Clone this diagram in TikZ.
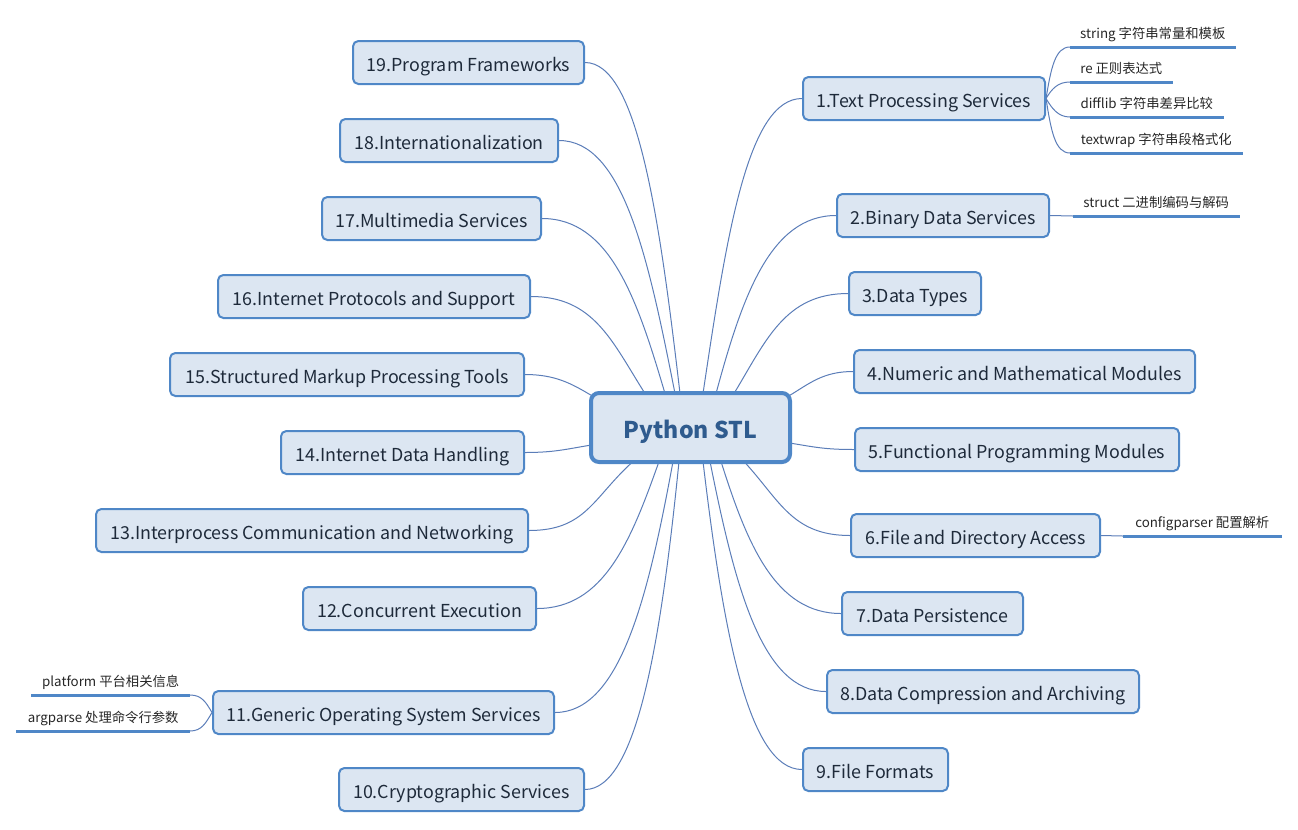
\documentclass[tikz,border=0pt]{standalone}
\usepackage{fontspec}
\setmainfont{Noto Sans CJK SC}
\usetikzlibrary{calc,backgrounds}
\definecolor{bord}{HTML}{4F87C7}
\definecolor{fillc}{HTML}{DCE6F2}
\definecolor{linec}{HTML}{5B7DB8}
\definecolor{txt}{HTML}{1E2A3A}
\definecolor{roottxt}{HTML}{2F5B8E}
\begin{document}
\begin{tikzpicture}[x=0.75pt,y=-0.75pt,
  topic/.style={draw=bord, line width=1.5pt, fill=fillc, rounded corners=4pt,
    minimum height=32.25pt, inner xsep=0pt, inner ysep=0pt, text=txt,
    text height=15.8pt, text depth=2pt,
    font=\fontsize{13.4}{16}\selectfont},
  wd/.style={minimum width=#1*0.75pt-1.5pt},
  rootn/.style={draw=bord, line width=3pt, fill=fillc, rounded corners=6pt,
    minimum width=149.25pt, minimum height=51.75pt, text=roottxt,
    inner sep=0pt, text height=18.8pt, text depth=3pt,
    font=\fontsize{17.3}{20}\selectfont\bfseries},
  conn/.style={draw=linec, line width=0.75pt},
  leaf/.style={font=\fontsize{10}{12}\selectfont, text=black!85, inner sep=0pt,
    text height=8pt, text depth=6.5pt},
  lw/.style={minimum width=#1*0.75pt},
  uline/.style={draw=bord, line width=2.25pt}]
\useasboundingbox (0,0) rectangle (1298,829);

\node[rootn] (root) at (690.5,427.5) {Python STL};

% right topics
\node[topic, wd=244] (n1) at (924,98.5) {1.Text Processing Services};
\node[topic, wd=214] (n2) at (943,215.5) {2.Binary Data Services};
\node[topic, wd=134] (n3) at (915,293.5) {3.Data Types};
\node[topic, wd=343] (n4) at (1024.5,371.5) {4.Numeric and Mathematical Modules};
\node[topic, wd=326] (n5) at (1017,449.5) {5.Functional Programming Modules};
\node[topic, wd=251] (n6) at (975.5,535.5) {6.File and Directory Access};
\node[topic, wd=183] (n7) at (932.5,613.5) {7.Data Persistence};
\node[topic, wd=314] (n8) at (983,691.5) {8.Data Compression and Archiving};
\node[topic, wd=147] (n9) at (875.5,769.5) {9.File Formats};
% left topics
\node[topic, wd=233] (n19) at (468.5,62.5) {19.Program Frameworks};
\node[topic, wd=220] (n18) at (449,140.5) {18.Internationalization};
\node[topic, wd=221] (n17) at (431.5,218.5) {17.Multimedia Services};
\node[topic, wd=314] (n16) at (374,296.5) {16.Internet Protocols and Support};
\node[topic, wd=356] (n15) at (347,374.5) {15.Structured Markup Processing Tools};
\node[topic, wd=245] (n14) at (402.5,452.5) {14.Internet Data Handling};
\node[topic, wd=434] (n13) at (312,530.5) {13.Interprocess Communication and Networking};
\node[topic, wd=235] (n12) at (419.5,608.5) {12.Concurrent Execution};
\node[topic, wd=343] (n11) at (383.5,712.5) {11.Generic Operating System Services};
\node[topic, wd=247] (n10) at (461.5,789.5) {10.Cryptographic Services};

% leaves
\node[leaf, lw=165, anchor=south west] (l1) at (1070,47) {string 字符串常量和模板};
\node[leaf, lw=102, anchor=south west] (l2) at (1070,82) {re 正则表达式};
\node[leaf, lw=153, anchor=south west] (l3) at (1070,117) {difflib 字符串差异比较};
\node[leaf, lw=172, anchor=south west] (l4) at (1070,153) {textwrap 字符串段格式化};
\node[leaf, lw=166, anchor=south west] (l5) at (1073,216) {struct 二进制编码与解码};
\node[leaf, lw=158, anchor=south west] (l6) at (1123,536) {configparser 配置解析};
\node[leaf, lw=158, anchor=south east] (l7) at (190,695) {platform 平台相关信息};
\node[leaf, lw=173, anchor=south east] (l8) at (190,731) {argparse 处理命令行参数};

\foreach \l in {l1,l2,l3,l4,l5,l6,l7,l8}
  \draw[uline] (\l.south west) -- (\l.south east);

\begin{scope}[on background layer]
% upper left
\draw[conn] ($(root.center)+(-10.5,-34)$) .. controls +(-21,-180) and +(52,0) .. (n19.east);
\draw[conn] ($(root.center)+(-15.5,-34)$) .. controls +(-27,-137) and +(64,0) .. (n18.east);
\draw[conn] ($(root.center)+(-25.5,-34)$) .. controls +(-28,-95) and +(68,0) .. (n17.east);
\draw[conn] ($(root.center)+(-45.5,-34)$) .. controls +(-33,-52) and +(63,0) .. (n16.east);
\draw[conn] ($(root.center)+(-99,-32)$) .. controls +(-20,-12) and +(30,0) .. (n15.east);
\draw[conn] ($(root.center)+(-99,17.5)$) .. controls +(-25,4) and +(30,0) .. (n14.east);
% lower left
\draw[conn] ($(root.center)+(-57.5,34)$) .. controls +(-40,36) and +(57,0) .. (n13.east);
\draw[conn] ($(root.center)+(-31.5,34)$) .. controls +(-28,79) and +(67,0) .. (n12.east);
\draw[conn] ($(root.center)+(-17.5,34)$) .. controls +(-25,136) and +(65,0) .. (n11.east);
\draw[conn] ($(root.center)+(-11.5,34)$) .. controls +(-18,179) and +(52,0) .. (n10.east);
% upper right
\draw[conn] ($(root.center)+(12.5,-34)$) .. controls +(24,-161) and +(-54,0) .. (n1.west);
\draw[conn] ($(root.center)+(25.5,-34)$) .. controls +(26,-96) and +(-66,0) .. (n2.west);
\draw[conn] ($(root.center)+(43.5,-34)$) .. controls +(32,-53) and +(-63,0) .. (n3.west);
\draw[conn] ($(root.center)+(99,-32)$) .. controls +(20,-12) and +(-30,0) .. (n4.west);
\draw[conn] ($(root.center)+(99,15.5)$) .. controls +(25,4) and +(-30,0) .. (n5.west);
% lower right
\draw[conn] ($(root.center)+(53.5,34)$) .. controls +(36,39) and +(-58,0) .. (n6.west);
\draw[conn] ($(root.center)+(30.5,34)$) .. controls +(26,82) and +(-66,0) .. (n7.west);
\draw[conn] ($(root.center)+(19.5,34)$) .. controls +(25,125) and +(-64,0) .. (n8.west);
\draw[conn] ($(root.center)+(12.5,34)$) .. controls +(20,168) and +(-54,0) .. (n9.west);
% leaves
\draw[conn] (n1.east) .. controls +(5,-30) and +(-15,0) .. (l1.south west);
\draw[conn] (n1.east) .. controls +(6,-10) and +(-12,0) .. (l2.south west);
\draw[conn] (n1.east) .. controls +(6,10) and +(-12,0) .. (l3.south west);
\draw[conn] (n1.east) .. controls +(5,32) and +(-15,0) .. (l4.south west);
\draw[conn] (n2.east) -- (l5.south west);
\draw[conn] (n6.east) -- (l6.south west);
\draw[conn] (n11.west) .. controls +(-6,-10) and +(12,0) .. (l7.south east);
\draw[conn] (n11.west) .. controls +(-6,10) and +(12,0) .. (l8.south east);
\end{scope}
\end{tikzpicture}
\end{document}
